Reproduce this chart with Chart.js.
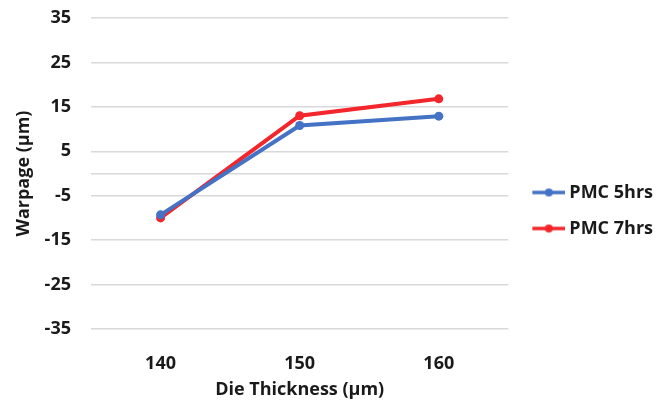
<!DOCTYPE html>
<html>
<head>
<meta charset="utf-8">
<script src="https://cdn.jsdelivr.net/npm/chart.js@4/dist/chart.umd.min.js"></script>
<style>
html,body{margin:0;padding:0;background:#fff;}
#wrap{width:669px;height:403px;position:relative;}
</style>
</head>
<body>
<div id="wrap"><canvas id="c" width="669" height="403"></canvas></div>
<script>
const categories = ['140', '150', '160'];
const pmc5hrs = [-9.3, 10.8, 12.9];
const pmc7hrs = [-10, 13, 16.8];
const seriesNames = ['PMC 5hrs', 'PMC 7hrs'];
const yTicks = [-35, -25, -15, -5, 5, 15, 25, 35];

const blue = '#4472C4';
const red = '#F2262B';
const FONT = "'Open Sans'";
const FS = 18;
const TXT = '#1a1a1a';

function legendIcon(color) {
  // 44px wide image, drawn centred on the legend box; visible part sits on the right
  const cv = document.createElement('canvas');
  cv.width = 44; cv.height = 10;
  const g = cv.getContext('2d');
  g.strokeStyle = color; g.lineWidth = 3.5; g.lineCap = 'butt';
  g.beginPath(); g.moveTo(11, 5); g.lineTo(44, 5); g.stroke();
  g.fillStyle = color; g.beginPath(); g.arc(27.5, 5, 4, 0, Math.PI * 2); g.fill();
  return cv;
}

function draw() {
  new Chart(document.getElementById('c'), {
    type: 'line',
    data: {
      labels: categories,
      datasets: [
        { label: seriesNames[0], data: pmc5hrs, borderColor: blue, backgroundColor: blue,
          borderWidth: 4, pointRadius: 4.5, pointBackgroundColor: blue, pointBorderWidth: 0, tension: 0 },
        { label: seriesNames[1], data: pmc7hrs, borderColor: red, backgroundColor: red,
          borderWidth: 4, pointRadius: 4.5, pointBackgroundColor: red, pointBorderWidth: 0, tension: 0 }
      ]
    },
    options: {
      responsive: false,
      animation: false,
      layout: { padding: { left: 0, right: 6, top: 18, bottom: 0 } },
      plugins: {
        tooltip: { enabled: false },
        legend: {
          position: 'right',
          labels: {
            usePointStyle: true,
            pointStyleWidth: 34,
            font: { family: FONT, size: FS, weight: 'bold' },
            color: TXT,
            padding: 18,
            generateLabels(chart) {
              return chart.data.datasets.map((ds, i) => ({
                text: ds.label,
                pointStyle: legendIcon(ds.borderColor),
                fillStyle: ds.borderColor,
                strokeStyle: ds.borderColor,
                lineWidth: 0,
                fontColor: TXT,
                hidden: false,
                datasetIndex: i
              }));
            }
          }
        }
      },
      scales: {
        x: {
          offset: true,
          afterFit(s) { s.height = 74; },
          grid: { display: false, drawTicks: false },
          border: { display: false },
          ticks: { font: { family: FONT, size: FS, weight: 'bold' }, color: TXT, padding: 24 },
          title: { display: true, text: 'Die Thickness (µm)', font: { family: FONT, size: FS, weight: 'bold' }, color: TXT, padding: { top: 0, bottom: 2 } }
        },
        y: {
          min: -35, max: 35,
          afterBuildTicks(scale) {
            const t = yTicks.map(v => ({ value: v }));
            t.push({ value: 0 });
            t.sort((a, b) => a.value - b.value);
            scale.ticks = t;
          },
          afterFit(s) { s.width = 91; s.paddingTop = 0; s.paddingBottom = 0; },
          grid: { color: '#D9D9D9', lineWidth: 1.5, drawTicks: false },
          border: { display: false },
          ticks: {
            font: { family: FONT, size: FS, weight: 'bold' }, color: TXT, padding: 20,
            callback(v) { return v === 0 ? '' : String(v); }
          },
          title: { display: true, text: 'Warpage (µm)', font: { family: FONT, size: FS, weight: 'bold' }, color: TXT, padding: { top: 13, bottom: 0 } }
        }
      }
    }
  });
}

document.fonts.load('bold 18px "Open Sans"', 'PMC 5hrs 0123456789 Die Thickness Warpage (µm)').then(draw, draw);
</script>
</body>
</html>
